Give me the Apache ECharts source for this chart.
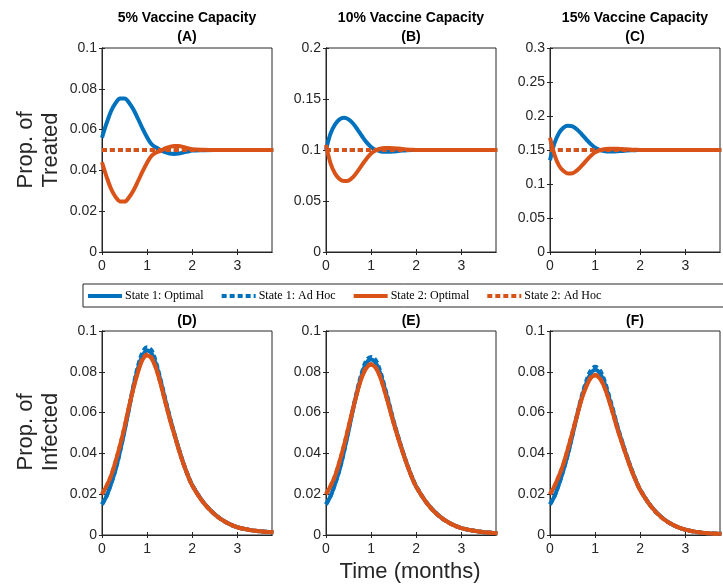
<!DOCTYPE html>
<html>
<head>
<meta charset="utf-8">
<script src="https://cdn.jsdelivr.net/npm/echarts@6/dist/echarts.min.js"></script>
<style>
html, body { margin: 0; padding: 0; background: #fff; }
#main { width: 723px; height: 587px; }
</style>
</head>
<body>
<div id="main"></div>
<script>
// time axis (months)
var months = [0, 0.1, 0.2, 0.3, 0.4, 0.5, 0.6, 0.7, 0.8, 0.9, 1.0, 1.1, 1.2, 1.3, 1.4, 1.5, 1.6, 1.7, 1.8, 1.9, 2.0,
              2.25, 2.5, 2.75, 3.0, 3.25, 3.5, 3.8];
var xTicks = [0, 1, 2, 3];
var timeEnd = 3.77;

// proportion treated, optimal strategy
var treatA_s1 = [0.056, 0.063, 0.069, 0.073, 0.0752, 0.0753, 0.0732, 0.0697, 0.0652, 0.0605, 0.0562, 0.0528, 0.0512, 0.0500, 0.0489, 0.0483, 0.0481, 0.0483, 0.0488, 0.0493, 0.0497, 0.0499, 0.05, 0.05, 0.05, 0.05, 0.05, 0.05];
var treatA_s2 = [0.044, 0.037, 0.031, 0.027, 0.0248, 0.0247, 0.0268, 0.0303, 0.0348, 0.0395, 0.0438, 0.0472, 0.0488, 0.0496, 0.0508, 0.0515, 0.0519, 0.0519, 0.0515, 0.0509, 0.0504, 0.0501, 0.05, 0.05, 0.05, 0.05, 0.05, 0.05];
var treatB_s1 = [0.100, 0.116, 0.125, 0.130, 0.1315, 0.130, 0.126, 0.120, 0.1135, 0.1075, 0.103, 0.1002, 0.0988, 0.0983, 0.0983, 0.0986, 0.099, 0.0994, 0.0997, 0.0999, 0.1, 0.1, 0.1, 0.1, 0.1, 0.1, 0.1, 0.1];
var treatB_s2 = [0.105, 0.087, 0.077, 0.0715, 0.0695, 0.070, 0.0735, 0.079, 0.0855, 0.0915, 0.0965, 0.0995, 0.1012, 0.1019, 0.102, 0.1018, 0.1014, 0.101, 0.1006, 0.1003, 0.1001, 0.1, 0.1, 0.1, 0.1, 0.1, 0.1, 0.1];
var treatC_s1 = [0.135, 0.160, 0.175, 0.183, 0.1855, 0.1848, 0.180, 0.1735, 0.166, 0.159, 0.1535, 0.1502, 0.1485, 0.1478, 0.1478, 0.1482, 0.1487, 0.1492, 0.1496, 0.1498, 0.15, 0.15, 0.15, 0.15, 0.15, 0.15, 0.15, 0.15];
var treatC_s2 = [0.168, 0.143, 0.127, 0.119, 0.1155, 0.1158, 0.120, 0.1265, 0.134, 0.141, 0.1465, 0.1495, 0.151, 0.1517, 0.1519, 0.1518, 0.1514, 0.151, 0.1506, 0.1503, 0.1501, 0.15, 0.15, 0.15, 0.15, 0.15, 0.15, 0.15];
// ad hoc treatment = vaccine capacity, flat
var adHocLevels = [0.05, 0.1, 0.15];

// proportion infected
var infD_s1  = [0.015, 0.019, 0.025, 0.032, 0.041, 0.051, 0.062, 0.073, 0.082, 0.088, 0.0905, 0.089, 0.0835, 0.0755, 0.0665, 0.058, 0.050, 0.0425, 0.0355, 0.0295, 0.0245, 0.016, 0.0102, 0.0062, 0.0038, 0.0026, 0.0018, 0.0013];
var infD_s1a = [0.015, 0.019, 0.025, 0.032, 0.041, 0.0515, 0.0625, 0.0735, 0.083, 0.0895, 0.092, 0.0905, 0.0845, 0.076, 0.067, 0.058, 0.050, 0.0425, 0.0355, 0.0295, 0.0245, 0.016, 0.0102, 0.0062, 0.0038, 0.0026, 0.0018, 0.0013];
var infD_s2  = [0.020, 0.024, 0.029, 0.036, 0.044, 0.053, 0.063, 0.072, 0.080, 0.086, 0.088, 0.0865, 0.0815, 0.074, 0.0655, 0.057, 0.0495, 0.042, 0.0352, 0.0293, 0.0243, 0.0158, 0.0101, 0.0062, 0.0038, 0.0026, 0.0018, 0.0013];
var infD_s2a = [0.020, 0.024, 0.029, 0.036, 0.044, 0.053, 0.063, 0.0725, 0.0805, 0.0865, 0.0885, 0.087, 0.0818, 0.0742, 0.0657, 0.0572, 0.0496, 0.0421, 0.0353, 0.0294, 0.0244, 0.0159, 0.0101, 0.0062, 0.0038, 0.0026, 0.0018, 0.0013];

var infE_s1  = [0.015, 0.019, 0.025, 0.032, 0.041, 0.051, 0.0615, 0.071, 0.079, 0.0845, 0.086, 0.0845, 0.0795, 0.072, 0.064, 0.0555, 0.048, 0.041, 0.0345, 0.0287, 0.0238, 0.0153, 0.0095, 0.0057, 0.0034, 0.0022, 0.0014, 0.0009];
var infE_s1a = [0.015, 0.019, 0.025, 0.032, 0.041, 0.0515, 0.062, 0.0718, 0.080, 0.0858, 0.0873, 0.0858, 0.0805, 0.0728, 0.0645, 0.0558, 0.0482, 0.0411, 0.0346, 0.0288, 0.0239, 0.0153, 0.0095, 0.0057, 0.0034, 0.0022, 0.0014, 0.0009];
var infE_s2  = [0.020, 0.024, 0.029, 0.036, 0.044, 0.053, 0.062, 0.0705, 0.0775, 0.082, 0.0835, 0.082, 0.0775, 0.0705, 0.0628, 0.0548, 0.0475, 0.0406, 0.0342, 0.0285, 0.0236, 0.0152, 0.0094, 0.0057, 0.0034, 0.0022, 0.0014, 0.0009];
var infE_s2a = [0.020, 0.024, 0.029, 0.036, 0.044, 0.053, 0.062, 0.0708, 0.078, 0.0824, 0.0838, 0.0823, 0.0778, 0.0707, 0.063, 0.0549, 0.0476, 0.0407, 0.0343, 0.0286, 0.0237, 0.0152, 0.0094, 0.0057, 0.0034, 0.0022, 0.0014, 0.0009];

var infF_s1  = [0.015, 0.019, 0.025, 0.032, 0.040, 0.049, 0.0585, 0.067, 0.074, 0.079, 0.081, 0.0795, 0.075, 0.068, 0.0605, 0.0525, 0.0455, 0.0388, 0.0325, 0.027, 0.0222, 0.0138, 0.0082, 0.0047, 0.0026, 0.0015, 0.0009, 0.0006];
var infF_s1a = [0.015, 0.019, 0.025, 0.032, 0.040, 0.0495, 0.059, 0.0678, 0.0752, 0.0805, 0.0825, 0.081, 0.0762, 0.069, 0.0612, 0.053, 0.0458, 0.039, 0.0327, 0.0271, 0.0223, 0.0138, 0.0082, 0.0047, 0.0026, 0.0015, 0.0009, 0.0006];
var infF_s2  = [0.020, 0.024, 0.029, 0.035, 0.0425, 0.0505, 0.0585, 0.0665, 0.0725, 0.0768, 0.0782, 0.0768, 0.0728, 0.0665, 0.0592, 0.0516, 0.0448, 0.0383, 0.0321, 0.0267, 0.022, 0.0137, 0.0081, 0.0047, 0.0026, 0.0015, 0.0009, 0.0006];
var infF_s2a = [0.020, 0.024, 0.029, 0.035, 0.0425, 0.0505, 0.0587, 0.0668, 0.0728, 0.0772, 0.0786, 0.0771, 0.073, 0.0667, 0.0594, 0.0517, 0.0449, 0.0384, 0.0322, 0.0268, 0.0221, 0.0137, 0.0081, 0.0047, 0.0026, 0.0015, 0.0009, 0.0006];

var seriesNames = ['State 1: Optimal', 'State 1: Ad Hoc', 'State 2: Optimal', 'State 2: Ad Hoc'];
var panelTitles = ['5% Vaccine Capacity\n(A)', '10% Vaccine Capacity\n(B)', '15% Vaccine Capacity\n(C)', '(D)', '(E)', '(F)'];

var blue = '#0072BD', orange = '#D95319', axisCol = '#262626';

function pairs(ys) {
    return months.map(function (t, i) { return [t, ys[i]]; });
}
function flat(level) {
    return [[0, level], [timeEnd, level]];
}

var colLeft = [102, 326, 550];
var rowTop = [48, 331];
var panels = [
    {lines: [treatA_s1, flat(adHocLevels[0]), treatA_s2, flat(adHocLevels[0])], ymax: 0.1, step: 0.02},
    {lines: [treatB_s1, flat(adHocLevels[1]), treatB_s2, flat(adHocLevels[1])], ymax: 0.2, step: 0.05},
    {lines: [treatC_s1, flat(adHocLevels[2]), treatC_s2, flat(adHocLevels[2])], ymax: 0.3, step: 0.05},
    {lines: [infD_s1, infD_s1a, infD_s2, infD_s2a], ymax: 0.1, step: 0.02},
    {lines: [infE_s1, infE_s1a, infE_s2, infE_s2a], ymax: 0.1, step: 0.02},
    {lines: [infF_s1, infF_s1a, infF_s2, infF_s2a], ymax: 0.1, step: 0.02}
];

var grids = [], xAxes = [], yAxes = [], series = [], graphics = [];
var tickFont = {fontFamily: 'Liberation Sans', fontSize: 14, color: axisCol};

panels.forEach(function (p, k) {
    var left = colLeft[k % 3], top = rowTop[Math.floor(k / 3)];
    grids.push({left: left, top: top, width: 170, height: 204, show: true,
        borderColor: axisCol, borderWidth: 1, containLabel: false});
    // bottom/left axes with labels, top/right axes only ticks (box on)
    [false, true].forEach(function (mirror) {
        xAxes.push({
            type: 'value', gridIndex: k, min: 0, max: timeEnd, interval: 1,
            position: mirror ? 'top' : 'bottom',
            axisLine: {show: true, lineStyle: {color: axisCol, width: 1}},
            axisTick: {show: true, inside: true, length: 3, customValues: xTicks, lineStyle: {color: axisCol}},
            axisLabel: Object.assign({show: !mirror, margin: 7, customValues: xTicks}, tickFont),
            splitLine: {show: false}
        });
        yAxes.push({
            type: 'value', gridIndex: k, min: 0, max: p.ymax, interval: p.step,
            position: mirror ? 'right' : 'left',
            axisLine: {show: true, lineStyle: {color: axisCol, width: 1}},
            axisTick: {show: true, inside: true, length: 3, lineStyle: {color: axisCol}},
            axisLabel: Object.assign({show: !mirror, margin: 5}, tickFont),
            splitLine: {show: false}
        });
    });
    p.lines.forEach(function (ys, j) {
        var dashed = (j % 2 === 1);
        var col = j < 2 ? blue : orange;
        series.push({
            name: seriesNames[j], type: 'line',
            xAxisIndex: 2 * k, yAxisIndex: 2 * k,
            data: ys.length === 2 && Array.isArray(ys[0]) ? ys : pairs(ys),
            smooth: 0.35, symbol: 'none', clip: true, animation: false,
            color: col,
            lineStyle: {color: col, width: 4, type: dashed ? [5, 3] : 'solid'}
        });
    });
    var lines = panelTitles[k].split('\n');
    lines.forEach(function (txt, i) {
        graphics.push({
            type: 'text',
            x: left + 85, y: (k < 3 ? 18 + i * 19 : 321),
            style: {text: txt, align: 'center', verticalAlign: 'middle',
                font: 'bold 14px "Liberation Sans"', fill: '#000'}
        });
    });
});

// legend frame runs off the right edge, like the original
graphics.push({type: 'rect', shape: {x: 83, y: 284, width: 680, height: 23},
    style: {fill: '#fff', stroke: axisCol, lineWidth: 1}, z: -1});

// axis titles
graphics.push({type: 'text', x: 38, y: 150, rotation: Math.PI / 2,
    style: {text: 'Prop. of\nTreated', align: 'center', verticalAlign: 'middle',
        font: '22px "Liberation Sans"', lineHeight: 25, fill: axisCol}});
graphics.push({type: 'text', x: 38, y: 432, rotation: Math.PI / 2,
    style: {text: 'Prop. of\nInfected', align: 'center', verticalAlign: 'middle',
        font: '22px "Liberation Sans"', lineHeight: 25, fill: axisCol}});
graphics.push({type: 'text', x: 410, y: 572,
    style: {text: 'Time (months)', align: 'center', verticalAlign: 'middle',
        font: '22px "Liberation Sans"', fill: axisCol}});

var myChart = echarts.init(document.getElementById('main'));

option = {
    backgroundColor: '#fff',
    animation: false,
    legend: {
        data: seriesNames,
        left: 83, top: 284, width: 700,
        orient: 'horizontal',
        itemWidth: 34, itemHeight: 10, itemGap: 16,
        padding: [6, 3, 4, 3],
        selectedMode: false,
        itemStyle: {opacity: 0},
        lineStyle: {width: 4},
        textStyle: {fontFamily: 'Liberation Serif', fontSize: 12, color: '#000', padding: [0, 0, 0, -2]}
    },
    grid: grids,
    xAxis: xAxes,
    yAxis: yAxes,
    series: series,
    graphic: graphics
};

myChart.setOption(option);
</script>
</body>
</html>
